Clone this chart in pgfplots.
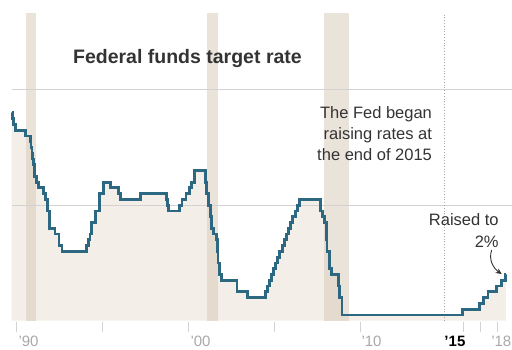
\documentclass[border=0pt]{standalone}
\usepackage{fontspec}
\setmainfont{Liberation Sans}
\usepackage{pgfplots}
\usepackage{pgfplotstable}
\pgfplotsset{compat=1.18}
\usetikzlibrary{arrows.meta}
\definecolor{linec}{HTML}{2D6882}
\definecolor{fillc}{HTML}{F3EEE7}
\definecolor{bandc}{HTML}{D6C8B4}
\definecolor{gridc}{HTML}{D2D2D2}
\definecolor{txtc}{HTML}{333333}
\definecolor{tickc}{HTML}{A8A8A8}

\pgfplotstableread{
year rate
1989.75 9.0
1989.80 8.75
1989.85 8.5
1989.97 8.25
1990.53 8.0
1990.82 7.75
1990.87 7.5
1990.93 7.25
1990.96 7.0
1991.02 6.75
1991.09 6.25
1991.18 6.0
1991.33 5.75
1991.60 5.5
1991.70 5.25
1991.83 5.0
1991.85 4.75
1991.93 4.5
1991.97 4.0
1992.27 3.75
1992.50 3.25
1992.68 3.0
1994.10 3.25
1994.22 3.5
1994.30 3.75
1994.38 4.25
1994.62 4.75
1994.87 5.5
1995.08 6.0
1995.51 5.75
1995.97 5.5
1996.08 5.25
1997.23 5.5
1998.74 5.25
1998.79 5.0
1998.88 4.75
1999.49 5.0
1999.65 5.25
1999.88 5.5
2000.09 5.75
2000.22 6.0
2000.37 6.5
2001.01 6.0
2001.08 5.5
2001.21 5.0
2001.30 4.5
2001.37 4.0
2001.49 3.75
2001.64 3.5
2001.71 3.0
2001.75 2.5
2001.85 2.0
2001.94 1.75
2002.85 1.25
2003.48 1.0
2004.50 1.25
2004.61 1.5
2004.72 1.75
2004.86 2.0
2004.95 2.25
2005.09 2.5
2005.22 2.75
2005.33 3.0
2005.50 3.25
2005.61 3.5
2005.72 3.75
2005.83 4.0
2005.95 4.25
2006.08 4.5
2006.24 4.75
2006.36 5.0
2006.49 5.25
2007.71 4.75
2007.83 4.5
2007.94 4.25
2008.06 3.5
2008.08 3.0
2008.21 2.25
2008.33 2.0
2008.77 1.5
2008.83 1.0
2008.96 0.25
2015.96 0.5
2016.95 0.75
2017.20 1.0
2017.45 1.25
2017.95 1.5
2018.22 1.75
2018.45 2.0
2018.48 2.0
}\ratetable

\begin{document}
\begin{tikzpicture}
\begin{axis}[
  name=ax,
  scale only axis,
  width=500.3pt, height=307.2pt,
  xmin=1989.75, xmax=2018.84,
  ymin=0, ymax=13.3,
  axis y line=none,
  axis x line*=bottom,
  x axis line style={draw=none},
  xtick={1990,1995,2000,2005,2010,2016,2017,2018},
  xticklabels={},
  tick align=outside,
  major tick length=10pt,
  xtick style={draw=gridc, line width=0.9pt, yshift=-1pt},
  ytick=\empty,
  clip=false,
]
% area under the line
\addplot[const plot, fill=fillc, draw=none, forget plot] table[x=year,y=rate]{\ratetable} \closedcycle;
% recession bands
\addplot[fill=bandc, fill opacity=0.5, draw=none, forget plot] coordinates {(1990.58,0) (1990.58,13.3) (1991.17,13.3) (1991.17,0)} -- cycle;
\addplot[fill=bandc, fill opacity=0.5, draw=none, forget plot] coordinates {(2001.12,0) (2001.12,13.3) (2001.77,13.3) (2001.77,0)} -- cycle;
\addplot[fill=bandc, fill opacity=0.5, draw=none, forget plot] coordinates {(2007.88,0) (2007.88,13.3) (2009.35,13.3) (2009.35,0)} -- cycle;
% gridlines
\addplot[gridc, line width=0.9pt, forget plot] coordinates {(1989.75,5) (2018.84,5)};
\addplot[gridc, line width=0.9pt, forget plot] coordinates {(1989.75,10) (2018.84,10)};
% 2015 dotted line
\addplot[tickc, dotted, line width=0.8pt, forget plot] coordinates {(2014.9,0) (2014.9,13.3)};
% the rate
\addplot[const plot, linec, line width=2.8pt, line join=miter] table[x=year,y=rate]{\ratetable};

% title
\node[font=\fontsize{19.5}{22}\selectfont\bfseries, text=txtc] at (axis cs:1999.97,11.37) {Federal funds target rate};
% annotations
\node[font=\fontsize{16.5}{21}\selectfont, text=txtc, align=right, anchor=east] at (axis cs:2014.39,8.08) {The Fed began\\raising rates at\\the end of 2015};
\node[font=\fontsize{16.5}{21.7}\selectfont, text=txtc, align=right, anchor=east] at (axis cs:2018.27,3.89) {Raised to\\2\%};
\draw[-{Stealth[length=6pt,width=5.5pt]}, txtc, line width=0.9pt] (axis cs:2017.66,3.06) to[out=250,in=145] (axis cs:2018.24,2.02);
% x labels
\node[anchor=base west, font=\fontsize{15}{18}\selectfont, text=tickc] at ([xshift=-1pt,yshift=-26.3pt]axis cs:1990,0) {’90};
\node[anchor=base west, font=\fontsize{15}{18}\selectfont, text=tickc] at ([xshift=-1pt,yshift=-26.3pt]axis cs:2000,0) {’00};
\node[anchor=base west, font=\fontsize{15}{18}\selectfont, text=tickc] at ([xshift=-2pt,yshift=-26.3pt]axis cs:2010,0) {’10};
\node[anchor=base west, font=\fontsize{15}{18}\selectfont\bfseries, text=black] at ([xshift=-5pt,yshift=-26.3pt]axis cs:2015,0) {’15};
\node[anchor=base east, font=\fontsize{15}{18}\selectfont, text=tickc, inner xsep=0.5pt] at ([yshift=-26.3pt]rel axis cs:1,0) {’18};
\end{axis}
\pgfresetboundingbox
\path[use as bounding box] ([xshift=-11.7pt,yshift=-29.3pt]ax.south west) rectangle ([yshift=13.5pt]ax.north east);
\end{tikzpicture}
\end{document}
